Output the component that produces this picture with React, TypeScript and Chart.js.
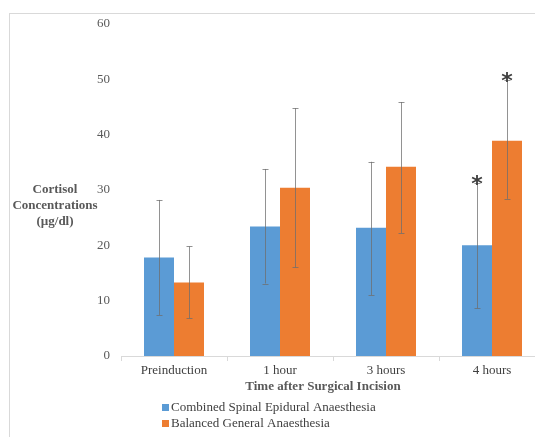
import React, { useEffect, useRef } from "react";
import { Chart, registerables } from "chart.js";

Chart.register(...registerables);

const categories = ["Preinduction", "1 hour", "3 hours", "4 hours"];
const seriesNames = ["Combined Spinal Epidural Anaesthesia", "Balanced General Anaesthesia"];
const cseaMeans = [17.8, 23.4, 23.2, 20.0];
const cseaLow = [7.4, 13.1, 11.0, 8.6];
const cseaHigh = [28.2, 33.8, 35.1, 31.2];
const bgaMeans = [13.3, 30.4, 34.2, 38.9];
const bgaLow = [6.8, 16.0, 22.2, 28.4];
const bgaHigh = [19.8, 44.8, 45.9, 49.8];
const cseaSignificant = [false, false, false, true];
const bgaSignificant = [false, false, false, true];
const yTicks = [0, 10, 20, 30, 40, 50, 60];
const yTitleLines = ["Cortisol", "Concentrations", "(µg/dl)"];
const xTitle = "Time after Surgical Incision";

const BLUE = "#5B9BD5";
const ORANGE = "#ED7D31";
const FONT = "'Liberation Serif', 'Times New Roman', serif";

const lows = [cseaLow, bgaLow];
const highs = [cseaHigh, bgaHigh];
const sigs = [cseaSignificant, bgaSignificant];

const overlayPlugin = {
  id: "overlay",
  afterDatasetsDraw(chart: any) {
    const ctx = chart.ctx;
    const y = chart.scales.y;
    const area = chart.chartArea;
    ctx.save();
    chart.data.datasets.forEach((ds: any, di: number) => {
      const meta = chart.getDatasetMeta(di);
      meta.data.forEach((bar: any, i: number) => {
        const x = Math.round(bar.x) + 0.5;
        const yl = y.getPixelForValue(lows[di][i]);
        const yh = y.getPixelForValue(highs[di][i]);
        ctx.strokeStyle = "rgba(110,110,110,0.75)";
        ctx.lineWidth = 1;
        ctx.beginPath();
        ctx.moveTo(x, yl);
        ctx.lineTo(x, yh);
        ctx.moveTo(x - 3, Math.round(yl) + 0.5);
        ctx.lineTo(x + 3, Math.round(yl) + 0.5);
        ctx.moveTo(x - 3, Math.round(yh) + 0.5);
        ctx.lineTo(x + 3, Math.round(yh) + 0.5);
        ctx.stroke();
        if (sigs[di][i]) {
          ctx.fillStyle = "#404040";
          ctx.font = "bold 22px 'DejaVu Sans', sans-serif";
          ctx.textAlign = "center";
          ctx.textBaseline = "middle";
          ctx.fillText("*", bar.x, yh + 2);
        }
      });
    });
    // y title (horizontal, multi-line)
    ctx.fillStyle = "#595959";
    ctx.font = `bold 13px ${FONT}`;
    ctx.textAlign = "center";
    ctx.textBaseline = "middle";
    const yc = y.getPixelForValue(30);
    yTitleLines.forEach((t, k) => ctx.fillText(t, 55, yc + k * 16));
    // x title
    const xc = (area.left + area.right) / 2 - 10;
    ctx.fillText(xTitle, xc, 387);
    // legend
    ctx.font = `13px ${FONT}`;
    ctx.textAlign = "left";
    ctx.fillStyle = "#404040";
    chart.data.datasets.forEach((ds: any, di: number) => {
      const ly = 408 + di * 16;
      ctx.fillStyle = ds.backgroundColor;
      ctx.fillRect(162, ly - 4, 7, 7);
      ctx.fillStyle = "#404040";
      ctx.fillText(ds.label, 171, ly);
    });
    ctx.restore();
  },
};

export default function App() {
  const ref = useRef<HTMLCanvasElement>(null);
  useEffect(() => {
    if (!ref.current) return;
    const chart = new Chart(ref.current, {
      type: "bar",
      data: {
        labels: categories,
        datasets: [
          { label: seriesNames[0], data: cseaMeans, backgroundColor: BLUE, borderColor: "rgba(255,255,255,0.4)", borderWidth: 0 },
          { label: seriesNames[1], data: bgaMeans, backgroundColor: ORANGE, borderColor: "rgba(255,255,255,0.4)", borderWidth: 0 },
        ],
      },
      options: {
        animation: false,
        responsive: false,
        devicePixelRatio: 1,
        layout: { padding: { top: 24, left: 0, right: 0, bottom: 51 } },
        plugins: { legend: { display: false }, tooltip: { enabled: false } },
        datasets: { bar: { categoryPercentage: 0.566, barPercentage: 1 } },
        scales: {
          x: {
            grid: { display: true, drawOnChartArea: false, drawTicks: true, tickLength: 5, color: "#d9d9d9", offset: true },
            border: { display: true, color: "#d9d9d9" },
            ticks: { color: "#404040", font: { family: FONT, size: 13 }, padding: 2 },
            afterFit: (s: any) => { s.height = 30; },
          },
          y: {
            min: 0,
            max: 60,
            afterBuildTicks: (s: any) => { s.ticks = yTicks.map((v) => ({ value: v })); },
            grid: { display: false, drawTicks: false },
            border: { display: false },
            ticks: { color: "#595959", font: { family: FONT, size: 13 }, padding: 11 },
            afterFit: (s: any) => { s.width = 121; },
          },
        },
      },
      plugins: [overlayPlugin],
    });
    return () => chart.destroy();
  }, []);
  return (
    <div style={{ position: "fixed", left: 0, top: 0, width: 535, height: 437, overflow: "hidden", background: "#fff" }}>
      <div style={{ position: "absolute", left: 9, top: 13, width: 600, height: 500, border: "1px solid #d9d9d9" }} />
      <canvas ref={ref} width={545} height={437} style={{ position: "absolute", left: 0, top: 0, width: 545, height: 437 }} />
    </div>
  );
}
